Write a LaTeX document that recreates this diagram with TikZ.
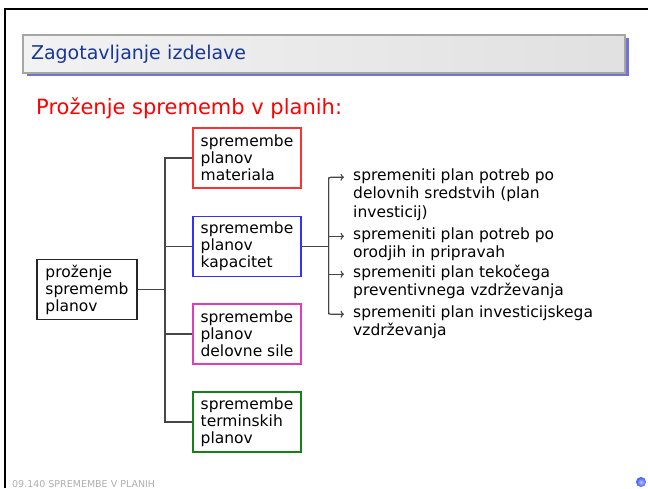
\documentclass[tikz,border=0pt]{standalone}
\usepackage{fontspec}
\setmainfont{DejaVu Sans}
\usetikzlibrary{arrows.meta,calc,positioning,shadows}
\definecolor{TitleBlue}{RGB}{25,55,150}
\definecolor{ShadowBlue}{RGB}{115,115,215}
\definecolor{MatRed}{RGB}{250,50,50}
\definecolor{CapBlue}{RGB}{50,50,250}
\definecolor{ForceMag}{RGB}{225,60,190}
\definecolor{TermGreen}{RGB}{20,130,20}
\definecolor{LinkGray}{RGB}{70,70,70}
\definecolor{FootGray}{RGB}{175,175,175}
\definecolor{BallBlue}{RGB}{60,90,250}

\begin{document}
\begin{tikzpicture}[x=1pt,y=-1pt,>={To[length=3.5pt,width=7pt]},
    plan/.style={draw,line width=1.3pt,minimum width=108,minimum height=60,align=left,inner sep=0pt,
      font=\fontsize{15.5}{17}\selectfont},
    link/.style={LinkGray,line width=1.4pt},
    branch/.style={LinkGray,line width=1.1pt},
    item/.style={anchor=base west,inner sep=0pt,font=\fontsize{15.5}{18.5}\selectfont}]
      \useasboundingbox (0,0) rectangle (648,488);
      \fill[white] (0,0) rectangle (648,488);
      \draw[line width=2pt] (5,488) -- (5,9) -- (648,9);
      \node[draw=gray!70,line width=1.2pt,left color=gray!10,right color=gray!24,
        minimum width=602,minimum height=38,text width=586,inner xsep=8,align=left,
        font=\fontsize{19}{20}\selectfont,text=TitleBlue,
        drop shadow={shadow xshift=4pt,shadow yshift=-3pt,fill=ShadowBlue,opacity=1}]
        (title) at (324,54) {Zagotavljanje izdelave};
      \node[anchor=base west,inner sep=0pt,text=red,font=\fontsize{21}{24}\selectfont]
        (sub) at (36,114) {Proženje sprememb v planih:};
      \node[plan,draw=black!85,minimum width=100] (root) at (87,289.5) {proženje\\sprememb\\planov};
      \node[plan,draw=MatRed] (mat) at (247,158) {spremembe\\planov\\materiala};
      \node[plan,draw=CapBlue] (kap) at (247,246.5) {spremembe\\planov\\kapacitet};
      \node[plan,draw=ForceMag] (sile) at (247,334) {spremembe\\planov\\delovne sile};
      \node[plan,draw=TermGreen] (term) at (247,422) {spremembe\\terminskih\\planov};
      \coordinate (trunk) at (165,0);
      \draw[link] (root) -- (root -| trunk);
      \draw[link] (mat) -| (trunk |- term) -- (term);
      \draw[link] (kap) -- (kap -| trunk);
      \draw[link] (sile) -- (sile -| trunk);
      \node[item] (it1) at (353,180) {\parbox[t]{280pt}{spremeniti plan potreb po\\delovnih sredstvih (plan\\investicij)}};
      \node[item] (it2) at (353,239) {\parbox[t]{280pt}{spremeniti plan potreb po\\orodjih in pripravah}};
      \node[item] (it3) at (353,277) {\parbox[t]{280pt}{spremeniti plan tekočega\\preventivnega vzdrževanja}};
      \node[item] (it4) at (353,317) {\parbox[t]{280pt}{spremeniti plan investicijskega\\vzdrževanja}};
      \coordinate (fork) at ($(kap.east)+(27,0)$);
      \draw[link] (kap) -- (fork);
      \draw[branch,->,rounded corners=2pt] (fork |- it4.mid west) -- (fork |- it1.mid west) -- ([xshift=-9pt]it1.mid west);
      \draw[branch,->,rounded corners=2pt] (fork |- it1.mid west) -- (fork |- it4.mid west) -- ([xshift=-9pt]it4.mid west);
      \draw[branch,->] (fork |- it2.mid west) -- ([xshift=-9pt]it2.mid west);
      \draw[branch,->] (fork |- it3.mid west) -- ([xshift=-9pt]it3.mid west);
      \node[anchor=base west,inner sep=0pt,text=FootGray,font=\fontsize{9.5}{11}\selectfont]
        (foot) at (12,487) {09.140 SPREMEMBE V PLANIH};
      \shade[inner color=blue!25!white,outer color=BallBlue] (641,482) circle (5);
    \end{tikzpicture}
\end{document}
